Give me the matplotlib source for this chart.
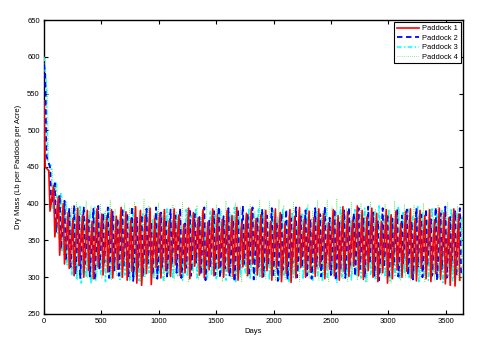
import numpy as np
import matplotlib
matplotlib.use("Agg")
import matplotlib.pyplot as plt

plt.rcParams["font.family"] = ["Liberation Sans", "DejaVu Sans"]

# ─── grazing rotation (4 paddocks, each grazed a quarter of the cycle) ───────
CYCLE_DAYS = 42
N_PADDOCKS = 4
LABELS = ["Paddock 1", "Paddock 2", "Paddock 3", "Paddock 4"]
START = [540, 590, 600, 600]          # dry mass at day 0

# peak (start of grazing) and trough (end of grazing) per cycle
P1_PEAK = [540, 445, 425, 410, 400,
           388, 379, 394, 384, 391, 376, 393, 386, 381, 392,
           383, 395, 389, 378, 396, 391, 384, 394, 380, 387,
           392, 377, 393, 385, 372, 394, 388, 381, 392, 375,
           393, 386, 379, 391, 384, 395, 374, 387, 392, 380,
           385, 391, 376, 393, 388, 373, 392, 383, 395, 379,
           390, 381, 393, 386, 374, 392, 384, 396, 389, 378,
           397, 391, 382, 394, 387, 376, 392, 385, 390, 373,
           389, 393, 380, 391, 384, 392, 377, 394, 388, 381, 393, 386]
P1_TROUGH = [450, 390, 355, 330, 318,
             312, 302, 316, 300, 309, 298, 314, 303, 307, 299,
             311, 300, 296, 308, 292, 289, 305, 290, 313, 299,
             309, 301, 317, 302, 306, 298, 315, 303, 299, 310,
             302, 312, 300, 307, 301, 296, 314, 302, 318, 303,
             300, 309, 296, 312, 294, 305, 293, 299, 313, 300,
             307, 301, 314, 298, 311, 302, 296, 308, 301, 315,
             302, 297, 309, 300, 294, 306, 292, 298, 310, 300,
             308, 299, 295, 312, 298, 294, 305, 297, 291, 289, 288, 296]

P2_PEAK = [575, 450, 428, 412, 404,
           394, 398, 383, 396, 378, 393, 397, 385, 395, 389,
           380, 394, 387, 396, 381, 385, 393, 376, 395, 388,
           379, 392, 384, 394, 373, 393, 386, 382, 395, 377,
           390, 396, 383, 394, 378, 393, 397, 386, 395, 380,
           393, 384, 394, 375, 387, 392, 380, 395, 383, 391,
           379, 394, 386, 396, 381, 393, 374, 391, 395, 387,
           394, 382, 396, 388, 377, 394, 386, 380, 393, 384,
           392, 376, 394, 385, 393, 379, 395, 387, 396, 382, 390, 394]
P2_TROUGH = [465, 398, 362, 338, 322,
             314, 304, 298, 318, 301, 296, 312, 320, 299, 309,
             302, 316, 300, 295, 311, 301, 319, 303, 298, 314,
             301, 317, 306, 299, 313, 302, 320, 304, 296, 315,
             303, 299, 312, 301, 294, 308, 318, 302, 297, 314,
             301, 316, 300, 295, 310, 297, 319, 300, 313, 302,
             298, 315, 301, 320, 303, 296, 312, 299, 317, 302,
             311, 300, 318, 302, 296, 313, 299, 316, 301, 319,
             303, 297, 314, 300, 317, 302, 296, 311, 299, 316, 301, 305]

P3_PEAK = [560, 452, 430, 414, 403,
           384, 393, 398, 379, 390, 395, 375, 388, 394, 382,
           376, 391, 385, 393, 372, 388, 394, 378, 390, 383,
           393, 377, 389, 371, 392, 384, 394, 380, 374, 391,
           385, 393, 376, 389, 395, 382, 373, 392, 386, 394,
           388, 374, 391, 383, 393, 377, 389, 370, 386, 394,
           379, 391, 384, 393, 375, 390, 396, 383, 378, 392,
           385, 394, 381, 390, 397, 384, 393, 379, 395, 388,
           394, 383, 396, 389, 377, 395, 386, 393, 380, 394, 389, 381]
P3_TROUGH = [455, 394, 360, 334, 316,
             302, 296, 292, 300, 291, 295, 304, 294, 299, 307,
             297, 303, 296, 301, 295, 300, 306, 298, 303, 296,
             305, 298, 302, 296, 301, 307, 299, 304, 297, 302,
             298, 305, 296, 301, 294, 300, 306, 297, 303, 299,
             304, 296, 302, 295, 301, 293, 300, 306, 297, 303,
             296, 302, 294, 300, 305, 292, 299, 303, 295, 301,
             299, 294, 303, 298, 306, 300, 295, 302, 297, 305,
             298, 303, 294, 301, 296, 304, 299, 293, 301, 295, 303, 297]

P4_PEAK = [550, 448, 427, 411, 402,
           396, 402, 388, 404, 397, 385, 399, 391, 405, 393,
           386, 400, 394, 403, 389, 406, 398, 384, 401, 392,
           388, 399, 383, 402, 395, 387, 398, 390, 403, 385,
           399, 391, 404, 386, 401, 396, 382, 399, 390, 405,
           393, 403, 387, 406, 398, 384, 402, 392, 386, 400,
           391, 404, 389, 405, 396, 407, 388, 394, 402, 385,
           401, 390, 403, 393, 383, 400, 389, 404, 392, 399,
           387, 398, 384, 401, 393, 382, 399, 390, 402, 386, 397, 383]
P4_TROUGH = [445, 388, 352, 330, 314,
             303, 297, 308, 299, 295, 305, 298, 311, 296, 302,
             299, 309, 296, 303, 294, 301, 312, 298, 306, 295,
             302, 296, 307, 300, 293, 305, 297, 310, 299, 304,
             300, 294, 308, 297, 302, 293, 300, 309, 296, 305,
             298, 307, 295, 302, 297, 292, 303, 294, 309, 298,
             305, 296, 302, 293, 300, 310, 297, 293, 304, 296,
             301, 294, 306, 297, 303, 299, 292, 305, 295, 300,
             296, 308, 298, 294, 303, 296, 301, 293, 306, 299, 295, 301]

PEAKS = [P1_PEAK, P2_PEAK, P3_PEAK, P4_PEAK]
TROUGHS = [P1_TROUGH, P2_TROUGH, P3_TROUGH, P4_TROUGH]

STYLES = [
    dict(color="#ff0000", linestyle="-", linewidth=1.2, zorder=5),
    dict(color="#0000ff", linestyle=(0, (3, 2)), linewidth=1.3, zorder=4),
    dict(color="#00ffff", linestyle=(0, (3, 1.5, 1, 1.5)), linewidth=1.1, zorder=3),
    dict(color="#66ee66", linestyle=(0, (1, 1.5)), linewidth=0.6, zorder=2),
]


def paddock_series(i):
    """Interleave peaks/troughs on the rotation schedule of paddock i."""
    graze = CYCLE_DAYS / N_PADDOCKS
    offset = i * graze
    n = min(len(PEAKS[i]), len(TROUGHS[i]))
    k = np.arange(n)
    t_peak = offset + k * CYCLE_DAYS
    days = np.empty(2 * n)
    vals = np.empty(2 * n)
    days[0::2], days[1::2] = t_peak, t_peak + graze
    vals[0::2], vals[1::2] = PEAKS[i][:n], TROUGHS[i][:n]
    if offset > 0:
        days = np.insert(days, 0, 0.0)
        vals = np.insert(vals, 0, START[i])
    return days, vals


fig = plt.figure(figsize=(4.85, 3.56), dpi=100)
ax = fig.add_axes([0.0907, 0.118, 0.8639, 0.8258])

for i in range(N_PADDOCKS):
    d, v = paddock_series(i)
    ax.plot(d, v, label=LABELS[i], **STYLES[i])

ax.set_xlim(0, 3650)
ax.set_ylim(250, 650)
ax.set_xticks(np.arange(0, 3501, 500))
ax.set_yticks(np.arange(250, 651, 50))
ax.tick_params(direction="in", length=3, width=0.8, labelsize=5.5,
               top=True, right=True, pad=3)
for s in ax.spines.values():
    s.set_linewidth(1.0)

ax.set_xlabel("Days", fontsize=5.5, labelpad=2)
ax.set_ylabel("Dry Mass (Lb per Paddock per Acre)", fontsize=5.5, labelpad=4)

leg = ax.legend(loc="upper right", fontsize=5.4, frameon=True, fancybox=False,
                edgecolor="black", framealpha=1, handlelength=3.0,
                borderpad=0.35, labelspacing=0.3, handletextpad=0.4,
                borderaxespad=0.3)
leg.get_frame().set_linewidth(0.8)

fig.savefig("out.png", dpi=100)
